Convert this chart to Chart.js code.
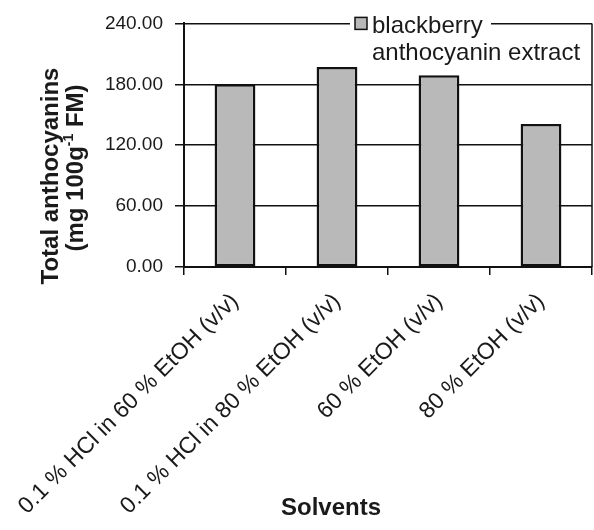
<!DOCTYPE html>
<html><head><meta charset="utf-8">
<script src="https://cdn.jsdelivr.net/npm/chart.js@4.4.0/dist/chart.umd.min.js"></script>
<style>html,body{margin:0;padding:0;background:#fff;overflow:hidden}#wrap{width:594px;height:530px;position:relative}</style>
</head><body><div id="wrap"><canvas id="c" width="594" height="530"></canvas></div>
<script>
const categories = ["0.1 % HCl in 60 % EtOH (v/v)", "0.1 % HCl in 80 % EtOH (v/v)", "60 % EtOH (v/v)", "80 % EtOH (v/v)"];
const seriesLines = ["blackberry", "anthocyanin extract"];
const values = [180, 197, 189, 141];
const yMin = 0, yMax = 240, yStep = 60;
const yTitleLine1 = "Total anthocyanins";
const yTitleLine2 = ["(mg 100g", "-1", " FM)"];
const xTitle = "Solvents";

const FONT = "'Liberation Sans', Arial, Helvetica, sans-serif";
Chart.defaults.font.family = FONT;
Chart.defaults.color = '#1a1a1a';

const decor = {
  id: 'decor',
  afterDraw(chart) {
    const ctx = chart.ctx, a = chart.chartArea;
    ctx.save();
    // right border of plot area
    ctx.strokeStyle = '#111'; ctx.lineWidth = 1.5;
    ctx.beginPath(); ctx.moveTo(a.right, a.top); ctx.lineTo(a.right, a.bottom); ctx.stroke();

    // legend
    const ds = chart.data.datasets[0];
    ctx.fillStyle = '#fff';
    ctx.fillRect(350, a.top - 8, 141, 16);
    ctx.fillStyle = ds.backgroundColor;
    ctx.fillRect(355, a.top - 6, 12, 12);
    ctx.strokeStyle = '#111'; ctx.lineWidth = 1.5;
    ctx.strokeRect(355, a.top - 6, 12, 12);
    ctx.fillStyle = '#1a1a1a';
    ctx.font = "24px " + FONT;
    ctx.textAlign = 'left'; ctx.textBaseline = 'alphabetic';
    ctx.fillText(seriesLines[0], 372, 33);
    ctx.fillText(seriesLines[1], 372, 60);

    // x title
    ctx.font = "bold 24px " + FONT;
    ctx.textAlign = 'center';
    ctx.fillText(xTitle, 331, 515);

    // y title
    ctx.save();
    ctx.translate(58, 176);
    ctx.rotate(-Math.PI / 2);
    ctx.textAlign = 'center';
    ctx.fillText(yTitleLine1, 0, 0);
    ctx.restore();

    ctx.save();
    ctx.translate(83, 168);
    ctx.rotate(-Math.PI / 2);
    ctx.textAlign = 'left';
    const big = "bold 24px " + FONT, small = "bold 14px " + FONT;
    ctx.font = big; const w0 = ctx.measureText(yTitleLine2[0]).width;
    ctx.font = small; const w1 = ctx.measureText(yTitleLine2[1]).width;
    ctx.font = big; const w2 = ctx.measureText(yTitleLine2[2]).width;
    let x = -(w0 + w1 + w2) / 2;
    ctx.font = big; ctx.fillText(yTitleLine2[0], x, 0); x += w0;
    ctx.font = small; ctx.fillText(yTitleLine2[1], x, -10); x += w1;
    ctx.font = big; ctx.fillText(yTitleLine2[2], x, 0);
    ctx.restore();

    ctx.restore();
  }
};

new Chart(document.getElementById('c'), {
  type: 'bar',
  data: {
    labels: categories,
    datasets: [{
      label: seriesLines.join(' '),
      data: values,
      backgroundColor: '#b9b9b9',
      borderColor: '#111',
      borderWidth: 2.5,
      borderSkipped: false,
      barPercentage: 0.4,
      categoryPercentage: 1.0
    }]
  },
  options: {
    responsive: false,
    animation: false,
    layout: { padding: { top: 22, right: 2, left: 0, bottom: 0 } },
    plugins: { legend: { display: false }, tooltip: { enabled: false }, title: { display: false } },
    scales: {
      x: {
        offset: true,
        grid: { offset: true, drawOnChartArea: false, color: '#111', lineWidth: 1.5, tickLength: 8 },
        border: { display: true, color: '#111', width: 2 },
        ticks: { minRotation: 45, maxRotation: 45, autoSkip: false, padding: 13, font: { size: 23 }, color: '#1a1a1a' },
        afterFit(s) { s.height = 263; s.paddingLeft = 0; s.paddingRight = 0; }
      },
      y: {
        min: yMin, max: yMax,
        ticks: { stepSize: yStep, padding: 12, font: { size: 19 }, color: '#1a1a1a', callback: v => v.toFixed(2) },
        grid: { color: '#111', lineWidth: 1.5, tickLength: 9 },
        border: { display: true, color: '#111', width: 2 },
        afterFit(s) { s.width = 184; }
      }
    }
  },
  plugins: [decor]
});
</script>
</body></html>
